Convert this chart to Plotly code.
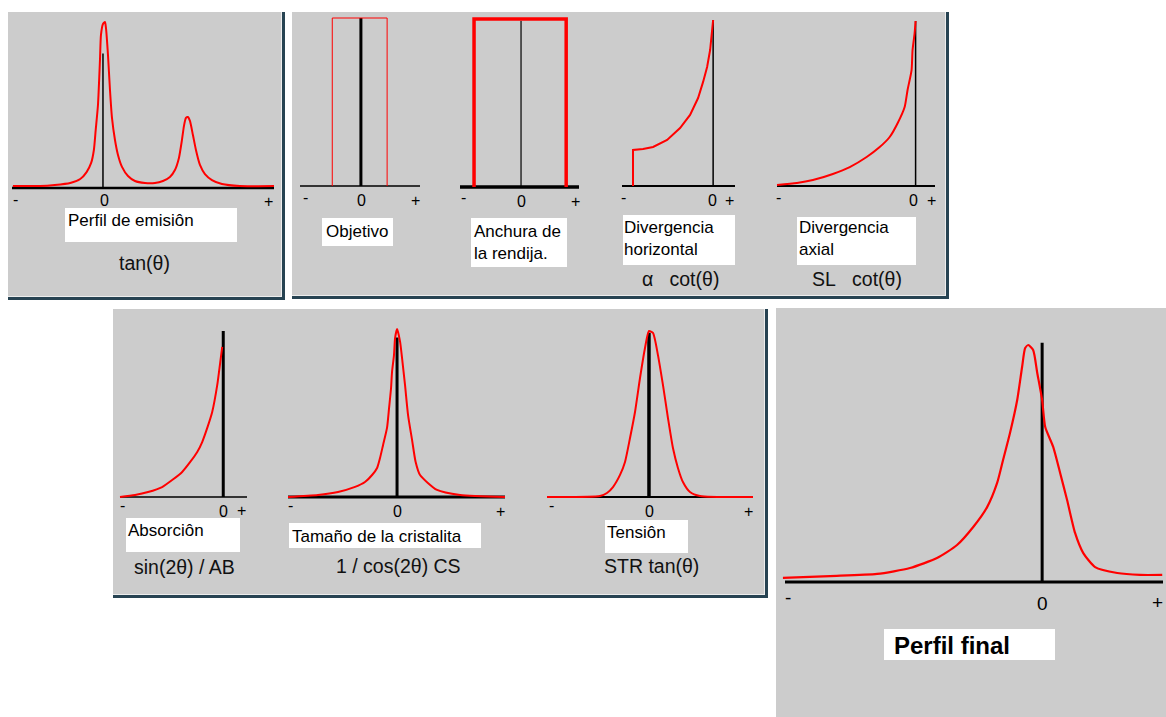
import plotly.graph_objects as go

W, H = 1166, 717

# ------------------------------------------------------------------
# DATA (x: relative angle, 0 = reflection position, left end = -1;
#       y: relative intensity in %, peak = 100)
# ------------------------------------------------------------------
emission_x = [-0.99, -0.69, -0.53, -0.36, -0.25, -0.18, -0.13, -0.10, -0.08, -0.055,
              -0.033, -0.022, 0.0, 0.022, 0.033, 0.055, 0.077, 0.099, 0.132, 0.165,
              0.209, 0.275, 0.352, 0.462, 0.571, 0.659, 0.736, 0.791, 0.835, 0.868,
              0.890, 0.912, 0.934, 0.956, 0.989, 1.022, 1.066, 1.121, 1.198, 1.308,
              1.505, 1.88]
emission_y = [1.2, 1.2, 1.8, 3.0, 5.4, 9.6, 15.1, 22.9, 34.9, 50.0,
              77.1, 92.2, 98.8, 100.0, 96.4, 80.1, 59.0, 42.2, 28.9, 19.9,
              12.7, 7.2, 4.2, 3.0, 3.0, 4.2, 6.6, 10.8, 18.1, 28.9,
              37.3, 42.2, 42.8, 40.4, 31.9, 22.9, 13.9, 8.4, 4.8, 2.4,
              1.2, 1.2]

objective_x = [-0.47, -0.47, 0.43, 0.43]
objective_y = [0, 100, 100, 0]

slit_x = [-0.77, -0.77, 0.74, 0.74]
slit_y = [0, 100, 100, 0]

hdiv_x = [-0.879, -0.879, -0.769, -0.659, -0.505, -0.363, -0.253, -0.165, -0.110,
          -0.066, -0.033, -0.011, 0.0]
hdiv_y = [0, 21.7, 22.3, 23.5, 27.7, 34.9, 42.8, 53.0, 62.7, 71.7, 81.9, 92.2, 100]

axdiv_x = [-1.0, -0.856, -0.741, -0.597, -0.475, -0.353, -0.259, -0.187, -0.129,
           -0.079, -0.058, -0.029, -0.022, -0.007, 0.0]
axdiv_y = [0.6, 1.8, 3.6, 7.3, 11.5, 17.6, 23.6, 29.7, 38.2, 47.9, 58.2, 70.3,
           82.4, 92.7, 100]

absorption_x = [-1.0, -0.854, -0.728, -0.592, -0.495, -0.398, -0.320, -0.252,
                -0.204, -0.155, -0.107, -0.058, -0.029, -0.010]
absorption_y = [0, 1.2, 3.0, 6.0, 10.2, 15.1, 21.1, 27.1, 33.1, 41.6, 51.2, 67.5,
                81.3, 90.4]

cryst_x = [-1.0, -0.725, -0.541, -0.385, -0.294, -0.229, -0.183, -0.156, -0.128,
           -0.092, -0.073, -0.055, -0.046, -0.028, -0.018, 0.0, 0.009, 0.028, 0.046,
           0.073, 0.101, 0.138, 0.17, 0.211, 0.367, 0.578, 0.99]
cryst_y = [0, 1.2, 3.0, 6.0, 8.9, 13.1, 17.3, 23.2, 31.0, 41.1, 53.0, 64.9, 74.4,
           84.5, 94.6, 100, 98.2, 92.3, 82.7, 66.7, 48.8, 33.9, 21.0, 13.1, 4.2, 1.2, 0]

strain_x = [-1.0, -0.480, -0.412, -0.353, -0.284, -0.235, -0.186, -0.137, -0.088,
            -0.039, 0.0, 0.039, 0.088, 0.137, 0.186, 0.235, 0.284, 0.333, 0.402, 0.5,
            1.02]
strain_y = [0, 0.6, 2.4, 6.0, 13.3, 21.1, 35.5, 51.2, 71.7, 89.8, 100, 98.8, 85.5,
            67.5, 47.6, 29.5, 17.5, 9.0, 3.0, 0.6, 0]

final_x = [-1.008, -0.825, -0.642, -0.514, -0.409, -0.331, -0.268, -0.214, -0.175,
           -0.152, -0.125, -0.097, -0.078, -0.066, -0.054, -0.035, -0.019, 0.0,
           0.012, 0.043, 0.070, 0.097, 0.128, 0.160, 0.206, 0.292, 0.381, 0.467]
final_y = [1.7, 2.5, 3.4, 5.9, 10.1, 15.6, 23.2, 31.6, 41.8, 51.5, 62.9, 76.8, 90.7,
           98.7, 100, 97.9, 88.2, 76.8, 65.4, 57.0, 46.0, 34.6, 20.7, 12.2, 6.3, 3.8,
           3.0, 3.0]

curves_x = [emission_x, objective_x, slit_x, hdiv_x, axdiv_x,
            absorption_x, cryst_x, strain_x, final_x]
curves_y = [emission_y, objective_y, slit_y, hdiv_y, axdiv_y,
            absorption_y, cryst_y, strain_y, final_y]

# right end of each little x axis (left end is -1) and height of the zero line
axis_x_hi = [1.88, 0.97, 0.95, 0.24, 0.14, 0.23, 0.99, 1.02, 0.47]
zero_line_top = [81, 100, 99, 100, 100, 100, 95, 99, 101]
tick_labels = ["-", "0", "+"]

box_labels = ["Perfil de emisiôn", "Objetivo", "Anchura de<br>la rendija.",
              "Divergencia<br>horizontal", "Divergencia<br>axial", "Absorciôn",
              "Tamaño de la cristalita", "Tensiôn", "<b>Perfil final</b>"]
formula_labels = ["tan(θ)", "α\u00a0\u00a0\u00a0cot(θ)", "SL\u00a0\u00a0\u00a0cot(θ)",
                  "sin(2θ) / AB", "1 / cos(2θ) CS", "STR tan(θ)"]

# ------------------------------------------------------------------
# LAYOUT / STYLE (pixel positions)
# ------------------------------------------------------------------
# (left, right, baseline, top-of-100%) in pixels
frames = [(12, 274, 188, 22), (300, 420, 186, 18), (460, 579, 187, 19),
          (622, 735, 186, 20), (777, 935, 186, 21), (120, 247, 497, 331),
          (288, 505, 497, 329), (547, 753, 497, 331), (785, 1163, 582, 345)]
# (baseline width, zero line width, red width)
styles = [(2.5, 1.5, 2), (1.5, 3, 1), (3.5, 1.2, 3.5), (2, 1.5, 2), (2, 1.5, 2),
          (1.5, 3, 2), (3, 3, 2), (2, 3.5, 2), (3, 3, 2.2)]
line_shapes = ["spline", "linear", "linear", "linear", "spline",
               "spline", "spline", "spline", "spline"]
# tick label pixel positions: (-, 0, +) each (x, y)
tick_pos = [[(15, 199), (104, 200), (268, 202)],
            [(305, 198), (361, 200), (415, 200)],
            [(463, 197), (521, 201), (575, 202)],
            [(623, 197), (712, 200), (729, 200)],
            [(778, 197), (913, 200), (931, 200)],
            [(122, 506), (223, 511), (241, 510)],
            [(290, 506), (397, 511), (500, 511)],
            [(551, 506), (649, 511), (748, 511)],
            [(788, 597), (1042, 603), (1157, 602)]]
tick_size = [16, 16, 16, 16, 16, 16, 16, 16, 19]

white_boxes = [(65, 208, 237, 242), (322, 218, 393, 246), (471, 218, 567, 267),
               (623, 215, 735, 265), (797, 217, 916, 265), (126, 518, 240, 552),
               (289, 523, 481, 548), (605, 520, 688, 553), (884, 629, 1055, 660)]
box_text_pos = [(66, 221), (324, 232), (472, 243), (622, 239), (797, 239),
                (126, 530), (290, 536), (605, 532), (892, 645)]
box_text_size = [17, 17, 17, 17, 17, 17, 17, 17, 24]
formula_pos = [(144, 263), (680, 279), (857, 279), (184, 567), (398, 566), (651, 566)]

GRAY = "#CCCCCC"
DARK = "#274352"
LIGHT = "#EDEDED"
FONT = "Liberation Sans, Arial, sans-serif"

# panels: (x0, y0, x1, y1, shadow?)
panels = [(8, 12, 281, 296, True), (292, 12, 945, 295, True),
          (113, 309, 764, 594, True), (776, 308, 1166, 717, False)]


def fx(px):
    return px / W


def fy(py):
    return 1 - py / H


fig = go.Figure()
shapes = []
annotations = []

# panels
for (x0, y0, x1, y1, shadow) in panels:
    shapes.append(dict(type="rect", xref="paper", yref="paper", x0=fx(x0), x1=fx(x1),
                       y0=fy(y0), y1=fy(y1), fillcolor=GRAY, line=dict(width=0),
                       layer="below"))
    if shadow:
        shapes.append(dict(type="rect", xref="paper", yref="paper", x0=fx(x1), x1=fx(x1 + 1),
                           y0=fy(y0), y1=fy(y1 + 1), fillcolor=LIGHT, line=dict(width=0),
                           layer="below"))
        shapes.append(dict(type="rect", xref="paper", yref="paper", x0=fx(x0), x1=fx(x1 + 1),
                           y0=fy(y1), y1=fy(y1 + 1), fillcolor=LIGHT, line=dict(width=0),
                           layer="below"))
        shapes.append(dict(type="rect", xref="paper", yref="paper", x0=fx(x1 + 1), x1=fx(x1 + 4),
                           y0=fy(y0), y1=fy(y1 + 4), fillcolor=DARK, line=dict(width=0),
                           layer="below"))
        shapes.append(dict(type="rect", xref="paper", yref="paper", x0=fx(x0), x1=fx(x1 + 4),
                           y0=fy(y1 + 1), y1=fy(y1 + 4), fillcolor=DARK, line=dict(width=0),
                           layer="below"))

# white label boxes
for (x0, y0, x1, y1) in white_boxes:
    shapes.append(dict(type="rect", xref="paper", yref="paper", x0=fx(x0), x1=fx(x1),
                       y0=fy(y0), y1=fy(y1), fillcolor="white", line=dict(width=0),
                       layer="below"))

layout_axes = {}
Y_LO, Y_HI = -6, 110
for i, (pl, pr, pb, pt) in enumerate(frames):
    n = "" if i == 0 else str(i + 1)
    xk, yk = "x" + n, "y" + n
    x_lo, x_hi = -1.0, axis_x_hi[i]
    sx = (pr - pl) / (x_hi - x_lo)
    dl, dr = max(0, pl - 5), min(W, pr + 5)
    rx = [x_lo + (dl - pl) / sx, x_lo + (dr - pl) / sx]
    sy = (pb - pt) / 100.0
    db, dt = min(H, pb - Y_LO * sy), max(0, pb - Y_HI * sy)
    ry = [(pb - db) / sy, (pb - dt) / sy]
    layout_axes["xaxis" + n] = dict(domain=[dl / W, dr / W], range=rx, visible=False,
                                    fixedrange=True, anchor=yk)
    layout_axes["yaxis" + n] = dict(domain=[1 - db / H, 1 - dt / H], range=ry,
                                    visible=False, fixedrange=True, anchor=xk)
    bw, vw, rw = styles[i]
    # baseline and zero line drawn on the subplot's own axes
    shapes.append(dict(type="line", xref=xk, yref=yk, x0=x_lo, x1=x_hi, y0=0, y1=0,
                       line=dict(color="black", width=bw), layer="below"))
    shapes.append(dict(type="line", xref=xk, yref=yk, x0=0, x1=0, y0=0,
                       y1=zero_line_top[i], line=dict(color="black", width=vw),
                       layer="below"))
    fig.add_trace(go.Scatter(x=curves_x[i], y=curves_y[i], mode="lines",
                             line=dict(color="#FF0000", width=rw, shape=line_shapes[i],
                                       smoothing=0.6),
                             xaxis=xk, yaxis=yk, hoverinfo="skip", showlegend=False))
    for lab, (tx, ty) in zip(tick_labels, tick_pos[i]):
        annotations.append(dict(text=lab, x=fx(tx), y=fy(ty), xref="paper", yref="paper",
                                xanchor="center", yanchor="middle", showarrow=False,
                                font=dict(family=FONT, size=tick_size[i], color="black")))

for lab, (tx, ty), sz in zip(box_labels, box_text_pos, box_text_size):
    annotations.append(dict(text=lab, x=fx(tx), y=fy(ty), xref="paper", yref="paper",
                            xanchor="left", yanchor="middle", align="left",
                            showarrow=False,
                            font=dict(family=FONT, size=sz, color="black")))

for lab, (tx, ty) in zip(formula_labels, formula_pos):
    annotations.append(dict(text=lab, x=fx(tx), y=fy(ty), xref="paper", yref="paper",
                            xanchor="center", yanchor="middle", showarrow=False,
                            font=dict(family=FONT, size=19.5, color="#111111")))

fig.update_layout(
    width=W, height=H,
    margin=dict(l=0, r=0, t=0, b=0),
    paper_bgcolor="white",
    plot_bgcolor="rgba(0,0,0,0)",
    showlegend=False,
    shapes=shapes,
    annotations=annotations,
    **layout_axes,
)

fig.write_html("out.html", config={"displayModeBar": False},
               post_script="document.body.style.margin='0px';"
                           "document.body.style.padding='0px';")
